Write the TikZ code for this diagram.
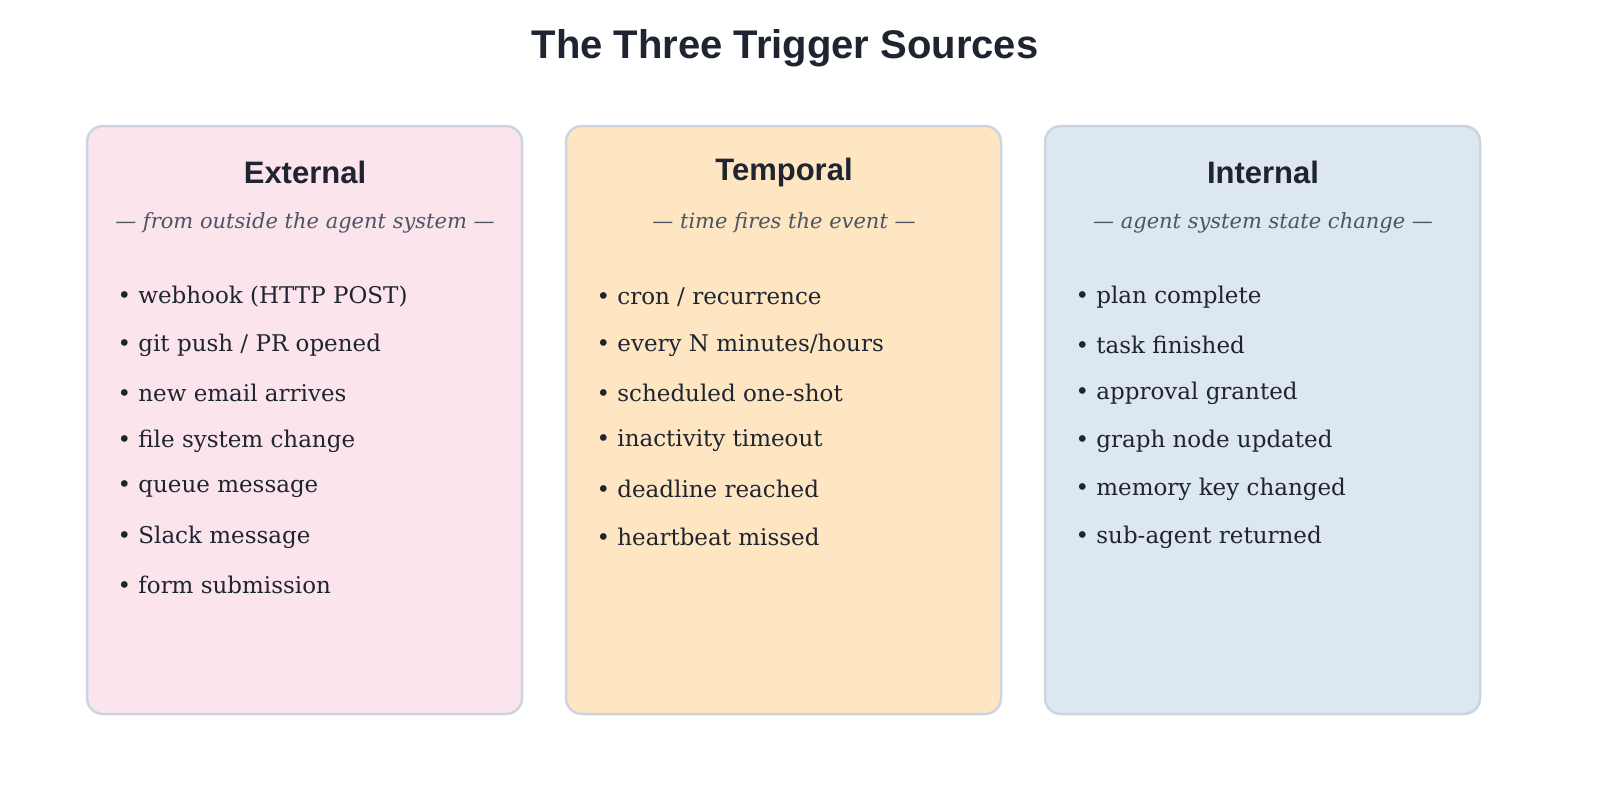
\documentclass[tikz,border=0pt]{standalone}
\usepackage{fontspec}
\setmainfont{DejaVu Serif}
\newfontfamily\headfont{Liberation Sans}
\definecolor{ink}{HTML}{1E2430}
\definecolor{sub}{HTML}{4B5563}
\definecolor{edge}{HTML}{CBD5E1}
\definecolor{fa}{HTML}{FCE4EC}
\definecolor{fb}{HTML}{FFE6C2}
\definecolor{fc}{HTML}{DDE7F0}
\begin{document}
\begin{tikzpicture}[x=1pt,y=-1pt,
 card/.style={draw=edge,line width=2.5pt,rounded corners=16pt},
 head/.style={font=\headfont\bfseries\fontsize{31}{36}\selectfont,text=ink},
 subt/.style={font=\itshape\fontsize{21}{26}\selectfont,text=sub},
 item/.style={font=\fontsize{23}{28}\selectfont,text=ink,anchor=west}]
\useasboundingbox (0,0) rectangle (1600,800);
\node[font=\headfont\bfseries\fontsize{40}{46}\selectfont,text=ink] (title) at (785,48) {The Three Trigger Sources};
\foreach \x/\f/\h/\s/\n [count=\i] in {87/fa/External/from outside the agent system/a,566/fb/Temporal/time fires the event/b,1045/fc/Internal/agent system state change/c}{
 \draw[card,fill=\f] (\x,126) rectangle (\x+435,714);
 \node[head] (h\n) at (\x+218,172) {\h};
 \node[subt] (s\n) at (\x+218,223) {--- \s\ ---};
}
\foreach \t [count=\k] in {webhook (HTTP POST),git push / PR opened,new email arrives,file system change,queue message,Slack message,form submission}
 \node[item] (ia\k) at (114,297+48*\k-48) {• \t};
\foreach \t [count=\k] in {cron / recurrence,every N minutes/hours,scheduled one-shot,inactivity timeout,deadline reached,heartbeat missed}
 \node[item] (ib\k) at (593,297+48*\k-48) {• \t};
\foreach \t [count=\k] in {plan complete,task finished,approval granted,graph node updated,memory key changed,sub-agent returned}
 \node[item] (ic\k) at (1072,297+48*\k-48) {• \t};
\end{tikzpicture}
\end{document}
